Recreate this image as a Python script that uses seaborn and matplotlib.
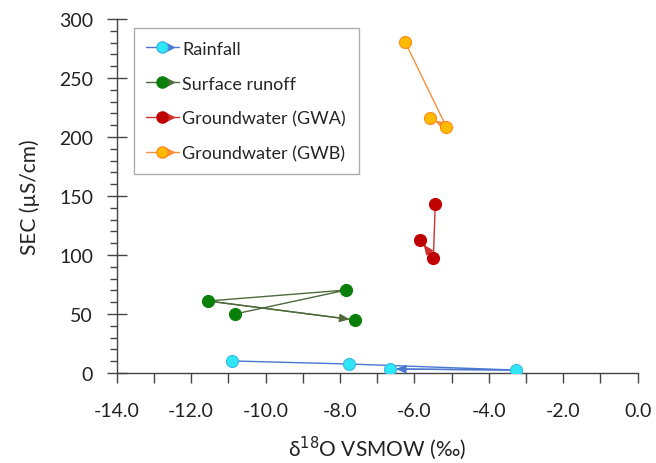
import matplotlib
matplotlib.use("Agg")
import matplotlib.pyplot as plt
import matplotlib.ticker as mticker
from matplotlib.lines import Line2D
from matplotlib.legend_handler import HandlerTuple
import pandas as pd
import seaborn as sns

sns.set_style("white")
plt.rcParams["font.family"] = ["Lato", "DejaVu Sans"]

# ── data (path order as drawn, arrow on last segment) ──
groups = ["Rainfall", "Surface runoff", "Groundwater (GWA)", "Groundwater (GWB)"]
rain_x = [-10.9, -7.75, -3.28, -6.65]
rain_y = [10.2, 7.6, 2.5, 3.4]
runoff_x = [-10.82, -7.83, -11.55, -7.59]
runoff_y = [50.0, 70.3, 61.0, 44.9]
gwa_x = [-5.44, -5.49, -5.84]
gwa_y = [143.2, 97.5, 112.7]
gwb_x = [-6.25, -5.14, -5.57]
gwb_y = [280.5, 208.5, 216.0]

xs = [rain_x, runoff_x, gwa_x, gwb_x]
ys = [rain_y, runoff_y, gwa_y, gwb_y]
line_cols = ["#4a78d0", "#4f6b3c", "#d03030", "#f7903a"]
face_cols = ["#2ee6f5", "#0a800a", "#c00000", "#ffbb00"]
edge_cols = ["#3ab8e6", "#0a800a", "#c00000", "#ff8a1a"]

# arrow tip sitting to the right of the marker centre (legend symbol)
tip = [(0.1, -0.45), (1.0, 0.0), (0.1, 0.45), (0.1, -0.45)]

fig, ax = plt.subplots(figsize=(6.56, 4.64), dpi=100)

handles = []
for g, x, y, lc, fc, ec in zip(groups, xs, ys, line_cols, face_cols, edge_cols):
    d = pd.DataFrame({"x": x, "y": y})
    sns.lineplot(data=d, x="x", y="y", sort=False, estimator=None,
                 color=lc, lw=1.0, ax=ax, legend=False)
    ax.annotate("", xy=(x[-1], y[-1]), xytext=(x[-2], y[-2]),
                arrowprops=dict(arrowstyle="-|>,head_length=0.6,head_width=0.25",
                                color=lc, lw=1.0, shrinkA=0, shrinkB=4))
    sns.scatterplot(data=d, x="x", y="y", color=fc, edgecolor=ec,
                    s=75, linewidth=0.8, ax=ax, zorder=3, legend=False)
    h_line = Line2D([], [], color=lc, lw=1.0)
    h_arr = Line2D([], [], color=lc, marker=tip, markersize=17, ls="none",
                   markerfacecolor=lc, markeredgecolor=lc)
    h_dot = Line2D([], [], color=fc, marker="o", markersize=8, ls="none",
                   markerfacecolor=fc, markeredgecolor=ec)
    handles.append((h_line, h_arr, h_dot))

ax.set_xlim(-14, 0)
ax.set_ylim(0, 300)
ax.xaxis.set_major_locator(mticker.MultipleLocator(2))
ax.xaxis.set_minor_locator(mticker.MultipleLocator(1))
ax.xaxis.set_major_formatter(mticker.FormatStrFormatter("%.1f"))
ax.yaxis.set_major_locator(mticker.MultipleLocator(50))
ax.yaxis.set_minor_locator(mticker.MultipleLocator(10))

sns.despine(ax=ax)
for s in ["left", "bottom"]:
    ax.spines[s].set_color("#444444")
    ax.spines[s].set_linewidth(1.0)
ax.tick_params(axis="x", which="major", bottom=True, direction="out", length=7,
               width=1.0, colors="#444444", labelcolor="#222222",
               labelsize=14, pad=14)
ax.tick_params(axis="y", which="major", left=True, direction="inout", length=14,
               width=1.0, colors="#444444", labelcolor="#222222",
               labelsize=14, pad=10)
ax.tick_params(axis="y", which="minor", left=True, direction="out", length=5,
               width=1.0, colors="#444444")
ax.tick_params(axis="x", which="minor", bottom=True, direction="out", length=7,
               width=1.0, colors="#444444")

ax.set_xlabel("δ$^{18}$O VSMOW (‰)", fontsize=15, color="#222222", labelpad=10)
ax.set_ylabel("SEC (µS/cm)", fontsize=15, color="#222222", labelpad=14)

leg = ax.legend(handles, groups, handler_map={tuple: HandlerTuple(ndivide=1)},
                loc="upper left", bbox_to_anchor=(0.015, 1.0), fontsize=13,
                frameon=True, fancybox=False, edgecolor="#999999",
                handlelength=1.8, handletextpad=0.2, labelspacing=1.05,
                borderpad=0.7)
leg.get_frame().set_linewidth(1.0)

plt.subplots_adjust(left=0.178, right=0.972, top=0.957, bottom=0.194)
plt.savefig("out.png", dpi=100)
plt.close()
